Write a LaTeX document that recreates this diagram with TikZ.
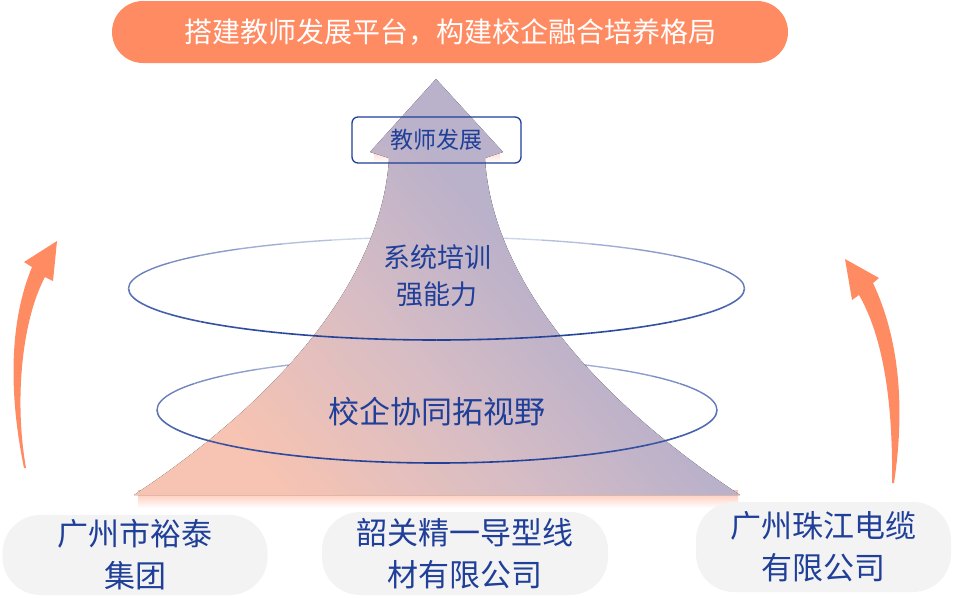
\documentclass[tikz,border=0pt]{standalone}
\usepackage{fontspec}
\newfontfamily\cjk{Noto Sans CJK SC}
\definecolor{coral}{HTML}{FF8B63}
\definecolor{navy}{HTML}{1F3F98}
\definecolor{peach}{HTML}{F7C3B2}
\definecolor{mauve}{HTML}{D8BDC4}
\definecolor{lilac}{HTML}{BAB1CA}
\definecolor{mist}{HTML}{F3F3F3}
\pgfdeclareverticalshading{rise}{100bp}{color(0bp)=(peach); color(26bp)=(peach);
  color(43bp)=(mauve); color(58bp)=(lilac); color(100bp)=(lilac)}
\tikzstyle{banner}=[fill=coral, text=white, rounded corners=31pt,
                    minimum width=676pt, minimum height=62pt,
                    font=\cjk\fontsize{28}{34}\selectfont]
\tikzstyle{company}=[fill=mist, text=navy, rounded corners=38pt, align=center,
                     font=\cjk\fontsize{31}{42}\selectfont]
\tikzstyle{stage}=[text=navy, align=center]
\tikzstyle{goal}=[draw=navy, line width=1.3pt, rounded corners=6pt, text=navy,
                  minimum width=169pt, minimum height=46pt,
                  font=\cjk\fontsize{23}{28}\selectfont]
\tikzstyle{swoosh}=[fill=coral]

\begin{document}
\begin{tikzpicture}[x=1pt, y=-1pt]
  \useasboundingbox (0,0) rectangle (953,597);

  % glow under the arrow
  \fill[top color=coral!55, bottom color=white] (138,490) rectangle (738,508);
  \fill[top color=coral!45, bottom color=white] (374,148) rectangle (500,162);

  % back halves of the rings
  \foreach \cx/\cy/\rx/\ry in {436.5/288.5/308/51.5, 437/410/280/53}
    \foreach \a in {0,10,...,170} {
      \pgfmathtruncatemacro{\p}{6+64*abs(cos(\a+5))}
      \draw[navy!\p!white, line width=1.4pt] (\cx,\cy) ++(\a:\rx pt and \ry pt)
        arc[start angle=\a, end angle=\a+10, x radius=\rx pt, y radius=\ry pt];
    }

  % the rising arrow
  \fill[shading=rise, shading angle=-50]
    (134,495) .. controls (300,385) and (383,265) .. (389,158) -- (370,152)
    -- (436,79) -- (503,152) -- (485,158)
    .. controls (491,265) and (574,385) .. (740,495) -- cycle;

  % front halves of the rings
  \foreach \cx/\cy/\rx/\ry in {436.5/288.5/308/51.5, 437/410/280/53}
    \foreach \a in {180,190,...,350} {
      \pgfmathtruncatemacro{\p}{70+30*abs(sin(\a+5))}
      \draw[navy!\p!white, line width=1.6pt] (\cx,\cy) ++(\a:\rx pt and \ry pt)
        arc[start angle=\a, end angle=\a+10, x radius=\rx pt, y radius=\ry pt];
    }

  \node[goal] (growth) at (436.5,140) {教师发展};
  \node[stage, font=\cjk\fontsize{27}{37}\selectfont] (training) at (437,276) {系统培训\\强能力};
  \node[stage, font=\cjk\fontsize{31}{38}\selectfont] (vision) at (437,412) {校企协同拓视野};

  \node[banner] (title) at (450,32) {搭建教师发展平台，构建校企融合培养格局};

  \node[company, minimum width=265pt, minimum height=80pt] (yutai) at (135,555) {广州市裕泰\\集团};
  \node[company, minimum width=286pt, minimum height=83pt] (jingyi) at (465,553.5) {韶关精一导型线\\材有限公司};
  \node[company, minimum width=255pt, minimum height=90pt] (pearl) at (823.5,547) {广州珠江电缆\\有限公司};

  % side arrows
  \fill[swoosh] (24,468) .. controls (8,390) and (10,320) .. (32,267) -- (24,262)
    -- (57,241) -- (53,281) -- (45,277) .. controls (22,320) and (14,400) .. (26,468) -- cycle;
  \fill[swoosh] (894,483) .. controls (905,410) and (900,340) .. (873,283) -- (879,278)
    -- (845,259) -- (852,300) -- (859,295) .. controls (885,340) and (893,410) .. (892,483) -- cycle;
\end{tikzpicture}
\end{document}
